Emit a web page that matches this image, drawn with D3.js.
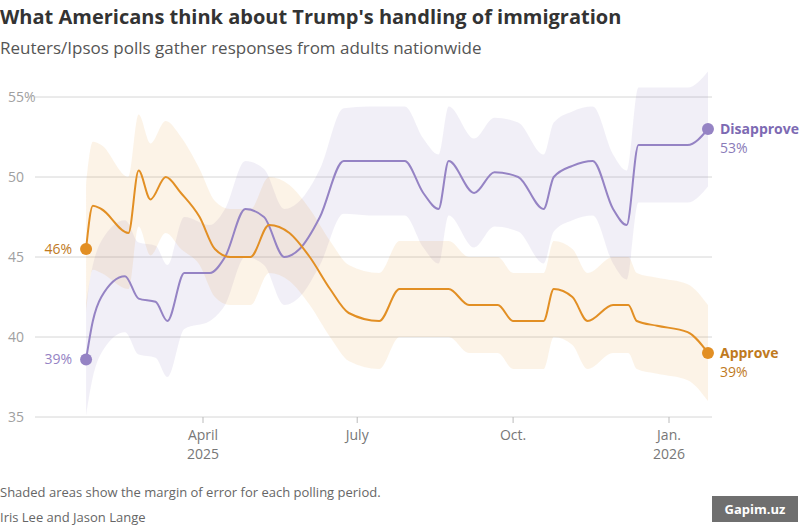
<!DOCTYPE html>
<html><head><meta charset="utf-8">
<script src="https://cdn.jsdelivr.net/npm/d3@7"></script>
<style>body{margin:0;background:#fff;font-family:"Source Sans Pro","Open Sans",Lato,sans-serif}</style>
</head><body><div id="chart"></div>
<script>
var w = 800, h = 526;

// day-of-year (2025) and poll values
var approveDays = [21,25,30,46,52,59,68,77,88,97,106,118,129,141,153,165,176,194,206,217,235,247,264,273,291,297,308,317,332,341,346,358,376,388];
var approveVals = [45.5,48.2,48,46.5,50.4,48.6,50,49,47.5,45.5,45,45,47,46.5,45,43,41.5,41,43,43,43,42,42,41,41,43,42.5,41,42,42,41,40.7,40.3,39];
var approveMoe  = [4,4,4,3.5,3.5,3.5,3.5,3.5,3,3,3,3,3,3,3,3,3,3,3,3,3,3,3,3,3,3,3,3,3,3,3,3,3,3];

var disDays = [21,25,30,44,52,62,69,79,94,103,115,126,138,147,159,173,188,209,220,229,235,250,262,276,291,297,308,320,332,340,347,358,376,388];
var disVals = [38.6,41,42.5,43.8,42.4,42.2,41,44,44,45,48,47.5,45,45.5,47.5,51,51,51,49,48,51,49,50.3,50,48,50,50.7,51,48,47,52,52,52,53];
var disMoe  = [3.5,3.5,3.5,3.5,3.5,3.5,3.5,3.5,3,3,3,3,3,3,3,3.3,3.4,3.4,3.4,3.4,3.4,3.4,3.4,3.4,3.4,3.4,3.4,3.4,3.4,3.4,3.6,3.6,3.6,3.6];

var yTicks = [35,40,45,50,55];
var xTicks = [{d:"2025-04-01",l:["April","2025"]},{d:"2025-07-01",l:["July"]},{d:"2025-10-01",l:["Oct."]},{d:"2026-01-01",l:["Jan.","2026"]}];

var purple = "#9583c4", orange = "#e28f24";
var t0 = new Date(2025,0,1);
function toDate(n){ return d3.timeDay.offset(t0, n); }

var svg = d3.select("#chart").append("svg").attr("width", w).attr("height", h);

var x = d3.scaleTime().domain([new Date(2025,3,1), new Date(2026,0,1)]).range([203, 669]);
var y = d3.scaleLinear().domain([35,55]).range([417,97]);

// grid
svg.selectAll("line.grid").data(yTicks).enter().append("line")
    .attr("x1", 35).attr("x2", 712).attr("y1", d => y(d)).attr("y2", d => y(d))
    .attr("stroke", "#d6d6d6").attr("stroke-width", 1);
svg.selectAll("text.ytick").data(yTicks).enter().append("text")
    .attr("x", 8).attr("y", d => y(d) + 5).attr("fill", "#a0a0a0").attr("font-size", 14)
    .text(d => d == 55 ? "55%" : d);

function series(days, vals, moe){
    return days.map((d,i) => ({date: toDate(d), v: vals[i], m: moe[i]}));
}
var app = series(approveDays, approveVals, approveMoe);
var dis = series(disDays, disVals, disMoe);

var area = d3.area().curve(d3.curveMonotoneX).x(d => x(d.date)).y0(d => y(d.v - d.m)).y1(d => y(d.v + d.m));
var line = d3.line().curve(d3.curveMonotoneX).x(d => x(d.date)).y(d => y(d.v));

svg.append("path").datum(dis).attr("d", area).attr("fill", purple).attr("opacity", 0.13);
svg.append("path").datum(app).attr("d", area).attr("fill", orange).attr("opacity", 0.11);
svg.append("path").datum(dis).attr("d", line).attr("fill", "none").attr("stroke", purple).attr("stroke-width", 2);
svg.append("path").datum(app).attr("d", line).attr("fill", "none").attr("stroke", orange).attr("stroke-width", 2);

// end dots
[[dis, purple],[app, orange]].forEach(function(s){
    [s[0][0], s[0][s[0].length-1]].forEach(function(p){
        svg.append("circle").attr("cx", x(p.date)).attr("cy", y(p.v)).attr("r", 6).attr("fill", s[1]);
    });
});

// x axis labels
var xt = svg.selectAll("g.xt").data(xTicks).enter().append("g");
xt.append("line").attr("x1", d => x(new Date(d.d))).attr("x2", d => x(new Date(d.d)))
    .attr("y1", 417).attr("y2", 423).attr("stroke", "#bbb");
xt.each(function(d){
    var g = d3.select(this);
    d.l.forEach(function(t,i){
        g.append("text").attr("x", x(new Date(d.d))).attr("y", 440 + i*19).attr("text-anchor","middle")
            .attr("fill", "#777").attr("font-size", 14).text(t);
    });
});

// labels
var dFirst = dis[0], dLast = dis[dis.length-1], aFirst = app[0], aLast = app[app.length-1];
svg.append("text").attr("x", x(dFirst.date) - 14).attr("y", y(dFirst.v) + 5).attr("text-anchor","end")
    .attr("fill", purple).attr("font-size", 14).text(dFirst.v.toFixed(0) + "%");
svg.append("text").attr("x", x(aFirst.date) - 14).attr("y", y(aFirst.v) + 5).attr("text-anchor","end")
    .attr("fill", "#c07a1e").attr("font-size", 14).text("46%");
svg.append("text").attr("x", x(dLast.date) + 12).attr("y", y(dLast.v) + 5)
    .attr("fill", "#7d6ab3").attr("font-size", 14).attr("font-weight", "bold").text("Disapprove");
svg.append("text").attr("x", x(dLast.date) + 12).attr("y", y(dLast.v) + 24)
    .attr("fill", "#8a7bb8").attr("font-size", 14).text("53%");
svg.append("text").attr("x", x(aLast.date) + 12).attr("y", y(aLast.v) + 5)
    .attr("fill", "#c07a1e").attr("font-size", 14).attr("font-weight", "bold").text("Approve");
svg.append("text").attr("x", x(aLast.date) + 12).attr("y", y(aLast.v) + 24)
    .attr("fill", "#c07a1e").attr("font-size", 14).text("39%");

// titles
svg.append("text").attr("x", 0).attr("y", 24).attr("font-size", 20).attr("font-weight", "bold")
    .attr("fill", "#333").text("What Americans think about Trump's handling of immigration");
svg.append("text").attr("x", 0).attr("y", 54).attr("font-size", 17).attr("fill", "#555")
    .text("Reuters/Ipsos polls gather responses from adults nationwide");
svg.append("text").attr("x", 0).attr("y", 497).attr("font-size", 13).attr("fill", "#666")
    .text("Shaded areas show the margin of error for each polling period.");
svg.append("text").attr("x", 0).attr("y", 522).attr("font-size", 13).attr("fill", "#666")
    .text("Iris Lee and Jason Lange");

// watermark
svg.append("rect").attr("x", 712).attr("y", 496).attr("width", 86).attr("height", 26).attr("fill", "#6f6f6f");
svg.append("text").attr("x", 755).attr("y", 514).attr("text-anchor","middle").attr("font-size", 13)
    .attr("font-weight","bold").attr("fill", "#fff").text("Gapim.uz");
</script></body></html>
